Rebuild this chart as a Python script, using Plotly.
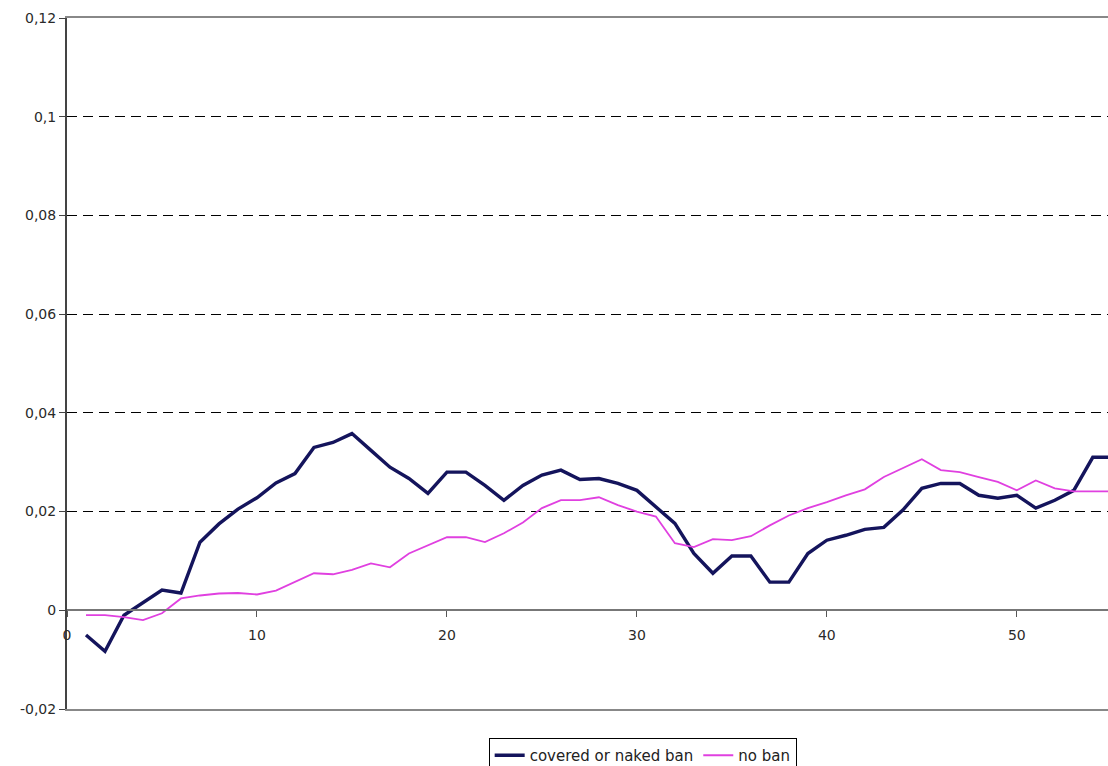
import plotly.graph_objects as go

x_vals = list(range(1, 56))
covered_or_naked_ban = [
    -0.0050, -0.0083, -0.0010, 0.0015, 0.0041, 0.0035, 0.0138, 0.0175, 0.0205, 0.0228,
    0.0258, 0.0277, 0.0330, 0.0340, 0.0358, 0.0324, 0.0290, 0.0267, 0.0237, 0.0280,
    0.0280, 0.0253, 0.0223, 0.0253, 0.0274, 0.0284, 0.0265, 0.0267, 0.0257, 0.0243,
    0.0210, 0.0176, 0.0115, 0.0075, 0.0110, 0.0110, 0.0057, 0.0057, 0.0115, 0.0142,
    0.0152, 0.0164, 0.0168, 0.0203, 0.0247, 0.0257, 0.0257, 0.0233, 0.0227, 0.0233,
    0.0207, 0.0223, 0.0243, 0.0310, 0.0310,
]
no_ban = [
    -0.0010, -0.0010, -0.0014, -0.0020, -0.0006, 0.0024, 0.0030, 0.0034, 0.0035, 0.0032,
    0.0040, 0.0057, 0.0075, 0.0073, 0.0082, 0.0095, 0.0087, 0.0115, 0.0132, 0.0148,
    0.0148, 0.0138, 0.0156, 0.0178, 0.0207, 0.0223, 0.0223, 0.0229, 0.0213, 0.0200,
    0.0190, 0.0136, 0.0128, 0.0144, 0.0142, 0.0150, 0.0172, 0.0192, 0.0207, 0.0219,
    0.0233, 0.0245, 0.0270, 0.0288, 0.0306, 0.0284, 0.0280, 0.0270, 0.0260, 0.0243,
    0.0263, 0.0247, 0.0241, 0.0241, 0.0241,
]
y_tickvals = [-0.02, 0, 0.02, 0.04, 0.06, 0.08, 0.1, 0.12]
y_ticktext = ["-0,02", "0", "0,02", "0,04", "0,06", "0,08", "0,1", "0,12"]
x_tickvals = [0, 10, 20, 30, 40, 50]

fig = go.Figure()
fig.add_trace(go.Scatter(x=x_vals, y=covered_or_naked_ban, mode="lines",
                         name="covered or naked ban",
                         line=dict(color="#14145c", width=3.4)))
fig.add_trace(go.Scatter(x=x_vals, y=no_ban, mode="lines", name="no ban",
                         line=dict(color="#e040e0", width=1.8)))
# invisible trace to carry the frame axis
fig.add_trace(go.Scatter(x=[0, 54.8], y=[0, 0], mode="lines", xaxis="x2",
                         line=dict(width=0), showlegend=False, hoverinfo="skip"))

ypos = (0 - (-0.02)) / (0.12 - (-0.02))

fig.update_layout(
    width=1108, height=766,
    margin=dict(l=67, r=0, t=18, b=57, autoexpand=False),
    paper_bgcolor="white", plot_bgcolor="white",
    font=dict(family="DejaVu Sans, Liberation Sans, Arial, sans-serif", size=14,
              color="#2a2a2a"),
    showlegend=True,
    legend=dict(orientation="h", x=0.553, xanchor="center", y=-0.042, yanchor="top",
                bordercolor="black", borderwidth=1, bgcolor="white",
                font=dict(size=15, color="#222222"), itemwidth=30,
                tracegroupgap=0),
    xaxis=dict(range=[0, 54.8], tickmode="array", tickvals=x_tickvals,
               anchor="free", position=ypos, showline=True, linecolor="#777777",
               linewidth=2, ticks="outside", ticklen=6, tickcolor="#555555",
               ticklabelstandoff=6,
               showgrid=False, zeroline=False),
    xaxis2=dict(range=[0, 54.8], overlaying="x", anchor="y", side="bottom",
                showline=True, mirror=True, linecolor="#888888", linewidth=1.5,
                showticklabels=False, ticks="", showgrid=False, zeroline=False),
    yaxis=dict(range=[-0.02, 0.12], tickmode="array", tickvals=y_tickvals,
               ticktext=y_ticktext, showline=True, linecolor="#444444", linewidth=2,
               ticks="outside", ticklen=6, tickcolor="#444444",
               showgrid=True, gridcolor="black", griddash="10px,6px", gridwidth=1.4,
               zeroline=True, zerolinecolor="#777777", zerolinewidth=2),
)

fig.write_html("out.html", config={"displayModeBar": False},
               post_script="document.body.style.margin='0';document.body.style.overflow='hidden';")
